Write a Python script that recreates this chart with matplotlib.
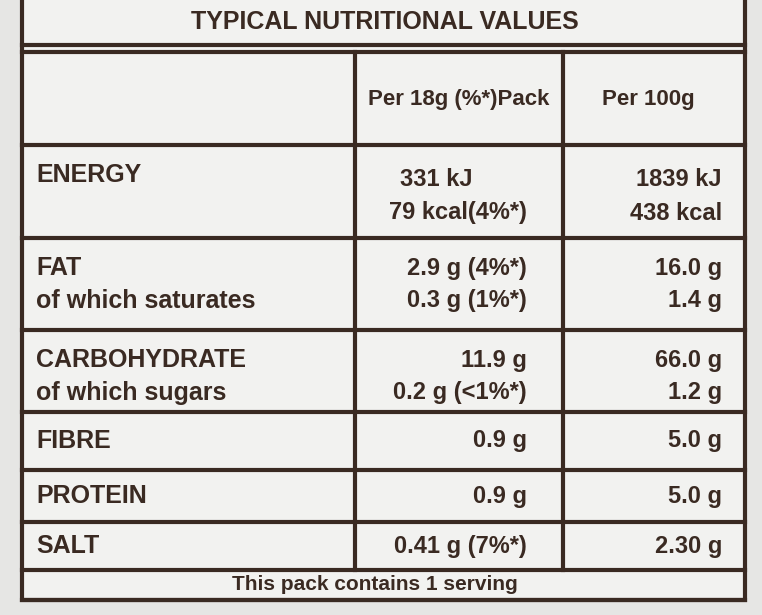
import matplotlib.pyplot as plt

title = 'TYPICAL NUTRITIONAL VALUES'
col_heads = ['Per 18g (%*)Pack', 'Per 100g']
row_names = [['ENERGY'], ['FAT', 'of which saturates'], ['CARBOHYDRATE', 'of which sugars'],
             ['FIBRE'], ['PROTEIN'], ['SALT']]
per_pack = [['331 kJ', '79 kcal(4%*)'], ['2.9 g (4%*)', '0.3 g (1%*)'], ['11.9 g', '0.2 g (<1%*)'],
            ['0.9 g'], ['0.9 g'], ['0.41 g (7%*)']]
per_100g = [['1839 kJ', '438 kcal'], ['16.0 g', '1.4 g'], ['66.0 g', '1.2 g'],
            ['5.0 g'], ['5.0 g'], ['2.30 g']]
footer = 'This pack contains 1 serving'

plt.rcParams['font.family'] = ['Liberation Sans', 'DejaVu Sans']
fig = plt.figure(figsize=(7.62, 6.15), dpi=100)
fig.patch.set_facecolor('#e6e6e4')
ax = fig.add_axes([0, 0, 1, 1])
ax.set_xlim(0, 762)
ax.set_ylim(615, 0)
ax.axis('off')

ink = '#3a2a22'
left, c1, c2, right = 22, 355, 563, 745
row_tops = [145, 238, 330, 412, 470, 522, 570]
lw = 3

ax.add_patch(plt.Rectangle((left, -5), right - left, 605, fc='#f2f2f0', ec=ink, lw=lw))
for y in [45] + row_tops + [600]:
    ax.plot([left, right], [y, y], color=ink, lw=lw)
ax.plot([c1, c1], [52, 570], color=ink, lw=lw)
ax.plot([c2, c2], [52, 570], color=ink, lw=lw)
ax.plot([left, right], [52, 52], color=ink, lw=lw)

kw = dict(color=ink, fontweight='bold')
ax.text(385, 22, title, ha='center', va='center', fontsize=18, **kw)
ax.text(459, 100, col_heads[0], ha='center', va='center', fontsize=16, **kw)
ax.text(648, 100, col_heads[1], ha='center', va='center', fontsize=16, **kw)

for i, names in enumerate(row_names):
    top, bot = row_tops[i], row_tops[i + 1]
    if len(names) == 1 and i > 0:
        ys = [(top + bot) / 2]
    else:
        ys = [top + 30, top + 63]
    ys_v = [top + 35, top + 68] if i == 0 else ys
    for j, s in enumerate(names):
        ax.text(36, ys[j], s, ha='left', va='center', fontsize=18, **kw)
    for j, s in enumerate(per_pack[i]):
        x = 472 if (i == 0 and j == 0) else 527
        ax.text(x, ys_v[j], s, ha='right', va='center', fontsize=17, **kw)
    for j, s in enumerate(per_100g[i]):
        ax.text(722, ys_v[j], s, ha='right', va='center', fontsize=17, **kw)

ax.text(375, 585, footer, ha='center', va='center', fontsize=15, **kw)
fig.savefig('out.png', dpi=100, facecolor=fig.get_facecolor())
